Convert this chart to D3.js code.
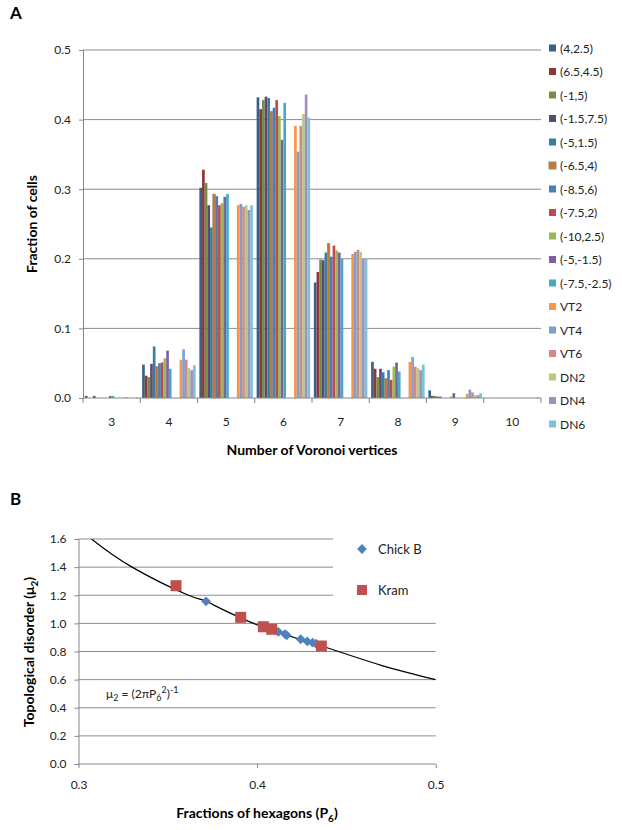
<!DOCTYPE html>
<html><head><meta charset="utf-8">
<script src="https://cdn.jsdelivr.net/npm/d3@7"></script>
<style>
body{margin:0;background:#fff;}
text{font-family:Lato,"Open Sans",sans-serif;}
</style></head>
<body><svg id="c" width="622" height="830"></svg>
<script>
// ---------- Panel A data ----------
const categories = ["3","4","5","6","7","8","9","10"];
const seriesNames = ["(4,2.5)","(6.5,4.5)","(-1,5)","(-1.5,7.5)","(-5,1.5)","(-6.5,4)","(-8.5,6)","(-7.5,2)","(-10,2.5)","(-5,-1.5)","(-7.5,-2.5)","VT2","VT4","VT6","DN2","DN4","DN6"];
const seriesColors = ["#3A5F8D","#8E3836","#72903F","#5D4877","#35809A","#C9772F","#4A7EBB","#BE4B48","#98B954","#7D60A0","#46AAC5","#F79646","#7F9FD0","#D1898A","#B3CB82","#A28FC0","#7DC2D8"];
// values per series, across categories 3..10
const s_4_25   = [0.003,0.048,0.302,0.432,0.166,0.052,0.011,0.000];
const s_65_45  = [0.000,0.032,0.328,0.415,0.181,0.042,0.003,0.000];
const s_m1_5   = [0.000,0.030,0.309,0.428,0.199,0.030,0.003,0.000];
const s_m15_75 = [0.003,0.049,0.277,0.433,0.198,0.042,0.002,0.000];
const s_m5_15  = [0.000,0.074,0.245,0.431,0.209,0.037,0.002,0.000];
const s_m65_4  = [0.000,0.045,0.293,0.412,0.222,0.028,0.000,0.000];
const s_m85_6  = [0.000,0.050,0.290,0.417,0.203,0.040,0.000,0.000];
const s_m75_2  = [0.000,0.051,0.277,0.428,0.219,0.026,0.000,0.000];
const s_m10_25 = [0.000,0.057,0.280,0.405,0.212,0.045,0.002,0.000];
const s_m5_m15 = [0.003,0.068,0.289,0.371,0.209,0.051,0.007,0.000];
const s_m75_m25= [0.003,0.042,0.293,0.424,0.200,0.038,0.000,0.000];
const s_VT2    = [0.000,0.055,0.277,0.391,0.207,0.052,0.006,0.000];
const s_VT4    = [0.001,0.070,0.279,0.354,0.210,0.059,0.012,0.000];
const s_VT6    = [0.000,0.055,0.275,0.391,0.213,0.045,0.008,0.000];
const s_DN2    = [0.000,0.043,0.277,0.408,0.210,0.043,0.004,0.000];
const s_DN4    = [0.000,0.040,0.270,0.436,0.200,0.040,0.004,0.000];
const s_DN6    = [0.001,0.047,0.277,0.403,0.200,0.048,0.007,0.001];
const seriesValues = [s_4_25,s_65_45,s_m1_5,s_m15_75,s_m5_15,s_m65_4,s_m85_6,s_m75_2,s_m10_25,s_m5_m15,s_m75_m25,s_VT2,s_VT4,s_VT6,s_DN2,s_DN4,s_DN6];
const yTicksA = [0,0.1,0.2,0.3,0.4,0.5];

// ---------- Panel B data ----------
const chickP6 = [0.3714,0.4119,0.4156,0.4166,0.4244,0.4281,0.4311,0.4330];
const chickMu = [1.157,0.939,0.924,0.915,0.887,0.872,0.863,0.855];
const kramP6  = [0.3546,0.3908,0.4035,0.4082,0.4360];
const kramMu  = [1.268,1.043,0.976,0.958,0.839];
const curveP6 = [0.3073,0.3300,0.3616,0.3714,0.3980,0.4360,0.4700,0.5000];
const curveMu = [1.600,1.400,1.200,1.157,1.000,0.839,0.700,0.600];
const xTicksB = [0.3,0.4,0.5];
const yTicksB = [0,0.2,0.4,0.6,0.8,1.0,1.2,1.4,1.6];

const svg = d3.select("#c");
const gridC = "#8C8C8C", axisC = "#868686";

// ================= Panel A =================
const A = {l:83, r:541, t:50, b:398};
const x0 = d3.scaleBand().domain(categories).range([A.l, A.r]);
const slots = [...seriesNames.slice(0,11), "_g1","_g2","_g3", ...seriesNames.slice(11)];
const x1 = d3.scaleBand().domain(slots).range([0, x0.bandwidth()]).paddingInner(0).paddingOuter(0.7);
const yA = d3.scaleLinear().domain([0,0.5]).range([A.b, A.t]);

svg.append("text").attr("x",10).attr("y",19).attr("font-size",17).attr("font-weight","bold").text("A");

// gridlines
svg.append("g").selectAll("line").data(yTicksA.filter(d=>d>0)).join("line")
  .attr("x1",A.l).attr("x2",A.r).attr("y1",d=>yA(d)).attr("y2",d=>yA(d))
  .attr("stroke",gridC).attr("stroke-width",1);

// bars
const gb = svg.append("g");
seriesNames.forEach((name,si)=>{
  gb.append("g").selectAll("rect").data(seriesValues[si]).join("rect")
    .attr("x",(d,i)=>x0(categories[i]) + x1(name))
    .attr("width",x1.bandwidth())
    .attr("y",d=>yA(d))
    .attr("height",d=>A.b - yA(d))
    .attr("fill",seriesColors[si])
    .attr("stroke", si===5 ? "#8A8A8A" : "none")
    .attr("stroke-width",0.6);
});

// y axis
const yAxA = d3.axisLeft(yA).tickValues(yTicksA).tickFormat(d3.format(".1f")).tickSize(4).tickPadding(8);
const gyA = svg.append("g").attr("transform",`translate(${A.l},0)`).call(yAxA);
gyA.select(".domain").attr("stroke",axisC);
gyA.selectAll(".tick line").attr("stroke",axisC);
gyA.selectAll(".tick text").attr("font-size",12).attr("fill","#222").style("font-family","Lato,sans-serif");

// x axis
const gxA = svg.append("g").attr("transform",`translate(0,${A.b})`);
gxA.append("line").attr("x1",A.l).attr("x2",A.r).attr("y1",0).attr("y2",0).attr("stroke",axisC);
gxA.selectAll("line.tk").data(d3.range(categories.length+1)).join("line").attr("class","tk")
  .attr("x1",i=>A.l + i*x0.step()).attr("x2",i=>A.l + i*x0.step()).attr("y1",0).attr("y2",5).attr("stroke",axisC);
gxA.selectAll("text").data(categories).join("text")
  .attr("x",d=>x0(d)+x0.bandwidth()/2).attr("y",28).attr("text-anchor","middle")
  .attr("font-size",12).attr("fill","#222").text(d=>d);

svg.append("text").attr("x",312).attr("y",455).attr("text-anchor","middle")
  .attr("font-size",14).attr("font-weight","bold").text("Number of Voronoi vertices");
svg.append("text").attr("transform","translate(37,224) rotate(-90)").attr("text-anchor","middle")
  .attr("font-size",14).attr("font-weight","bold").text("Fraction of cells");

// legend A
const lgA = svg.append("g").selectAll("g").data(seriesNames).join("g")
  .attr("transform",(d,i)=>`translate(549,${48 + i*23.5})`);
lgA.append("rect").attr("x",0).attr("y",-3.5).attr("width",7).attr("height",7)
  .attr("fill",(d,i)=>seriesColors[i]).attr("stroke",(d,i)=>i===5?"#8A8A8A":"none");
lgA.append("text").attr("x",11).attr("y",4.5).attr("font-size",12).attr("fill","#222").text(d=>d);

// ================= Panel B =================
const B = {l:78.5, r:435.7, t:539, b:764};
const xB = d3.scaleLinear().domain([0.3,0.5]).range([B.l,B.r]);
const yB = d3.scaleLinear().domain([0,1.6]).range([B.b,B.t]);

svg.append("text").attr("x",10).attr("y",505).attr("font-size",17).attr("font-weight","bold").text("B");

svg.append("g").selectAll("line").data(yTicksB.filter(d=>d>0)).join("line")
  .attr("x1",B.l).attr("x2",B.r).attr("y1",d=>yB(d)).attr("y2",d=>yB(d))
  .attr("stroke",gridC).attr("stroke-width",1);

// legend background box covers gridlines
svg.append("rect").attr("x",333).attr("y",530).attr("width",104).attr("height",80).attr("fill","#fff");

// curve
const clipId = "clipB";
svg.append("clipPath").attr("id",clipId).append("rect").attr("x",B.l).attr("y",B.t).attr("width",B.r-B.l).attr("height",B.b-B.t);
const curvePts = curveP6.map((p,i)=>[p,curveMu[i]]);
svg.append("path").datum(curvePts)
  .attr("d",d3.line().x(d=>xB(d[0])).y(d=>yB(d[1])).curve(d3.curveNatural))
  .attr("fill","none").attr("stroke","#000").attr("stroke-width",1.2).attr("clip-path",`url(#${clipId})`);

// axes B
const gyB = svg.append("g").attr("transform",`translate(${B.l},0)`)
  .call(d3.axisLeft(yB).tickValues(yTicksB).tickFormat(d3.format(".1f")).tickSize(4).tickPadding(8));
gyB.select(".domain").attr("stroke",axisC);
gyB.selectAll(".tick line").attr("stroke",axisC);
gyB.selectAll(".tick text").attr("font-size",12).attr("fill","#222").style("font-family","Lato,sans-serif");
const gxB = svg.append("g").attr("transform",`translate(0,${B.b})`)
  .call(d3.axisBottom(xB).tickValues(xTicksB).tickFormat(d3.format(".1f")).tickSize(4).tickPadding(12));
gxB.select(".domain").attr("stroke",axisC).attr("d",`M${B.l},0H${B.r}`);
gxB.selectAll(".tick line").attr("stroke",axisC);
gxB.selectAll(".tick text").attr("font-size",12).attr("fill","#222").style("font-family","Lato,sans-serif");

// points
const diamond = d3.symbol().type(d3.symbolSquare).size(48);
svg.append("g").selectAll("path").data(chickP6).join("path")
  .attr("transform",(d,i)=>`translate(${xB(d)},${yB(chickMu[i])}) rotate(45)`)
  .attr("d",diamond).attr("fill","#4F81BD");
svg.append("g").selectAll("rect").data(kramP6).join("rect")
  .attr("x",d=>xB(d)-5.5).attr("y",(d,i)=>yB(kramMu[i])-5.5).attr("width",11).attr("height",11)
  .attr("fill","#C0504D");

// legend B
svg.append("path").attr("transform","translate(362,549) rotate(45)").attr("d",diamond).attr("fill","#4F81BD");
svg.append("text").attr("x",378).attr("y",554).attr("font-size",13).attr("fill","#222").text("Chick B");
svg.append("rect").attr("x",357).attr("y",585).attr("width",10).attr("height",10).attr("fill","#C0504D");
svg.append("text").attr("x",378).attr("y",595).attr("font-size",13).attr("fill","#222").text("Kram");

// formula
const f = svg.append("text").attr("x",106).attr("y",698).attr("font-size",12).attr("fill","#222");
f.append("tspan").text("μ");
f.append("tspan").attr("font-size",9).attr("dy",3).text("2");
f.append("tspan").attr("dy",-3).text(" = (2πP");
f.append("tspan").attr("font-size",9).attr("dy",3).text("6");
f.append("tspan").attr("font-size",9).attr("dy",-8).text("2");
f.append("tspan").attr("dy",5).text(")");
f.append("tspan").attr("font-size",9).attr("dy",-5).text("-1");

// axis titles B
const tx = svg.append("text").attr("x",257).attr("y",818).attr("text-anchor","middle").attr("font-size",14).attr("font-weight","bold");
tx.append("tspan").text("Fractions of hexagons (P");
tx.append("tspan").attr("font-size",10).attr("dy",4).text("6");
tx.append("tspan").attr("dy",-4).text(")");
const ty = svg.append("text").attr("transform","translate(34,652) rotate(-90)").attr("text-anchor","middle").attr("font-size",14).attr("font-weight","bold");
ty.append("tspan").text("Topological disorder (μ");
ty.append("tspan").attr("font-size",10).attr("dy",4).text("2");
ty.append("tspan").attr("dy",-4).text(")");
</script></body></html>
